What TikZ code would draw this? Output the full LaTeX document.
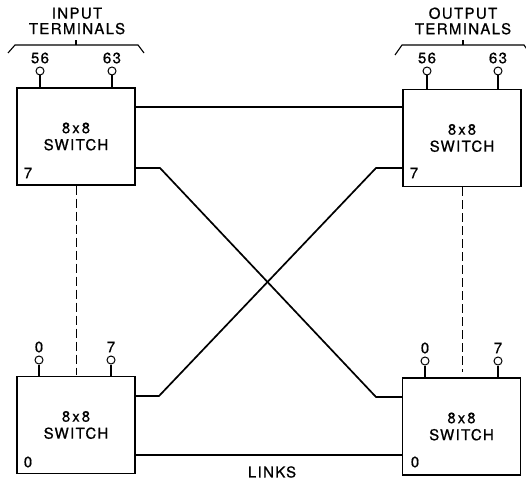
\documentclass[tikz,border=0pt]{standalone}
\usepackage{fontspec}
\setmainfont{TeX Gyre Heros}[LetterSpace=9,FakeBold=0.8]
\newcommand{\eightx}{8\hspace{2pt}x\hspace{2pt}8}
\begin{document}
\begin{tikzpicture}[x=1pt,y=-1pt,
  swbox/.style={draw,line width=1.3pt,minimum width=118pt,minimum height=97pt,inner sep=0pt,
     align=center,font=\fontsize{15}{17}\selectfont},
  lbl/.style={font=\fontsize{15}{17}\selectfont,inner sep=0pt},
  ttl/.style={font=\fontsize{15}{15.5}\selectfont,inner sep=0pt,align=center},
  link/.style={line width=1.7pt},
  term/.style={line width=1.4pt},
  dashline/.style={line width=1pt,dash pattern=on 9pt off 4pt},
  brace/.style={line width=1.1pt}]
\useasboundingbox (0,0) rectangle (526,481);
% boxes
\node[swbox] (tl) at (76,136.5) {\eightx\\SWITCH};
\node[swbox] (tr) at (462,138) {\eightx\\SWITCH};
\node[swbox] (bl) at (76,425) {\eightx\\SWITCH};
\node[swbox] (br) at (461.5,426.5) {\eightx\\SWITCH};
% inner port labels
\node[lbl] (tl7) at (28,173) {7};
\node[lbl] (tr7) at (414,173) {7};
\node[lbl] (bl0) at (28,462) {0};
\node[lbl] (br0) at (415,462) {0};
% titles
\node[ttl] (tin) at (77,21) {INPUT\\TERMINALS};
\node[ttl] (tout) at (463,21) {OUTPUT\\TERMINALS};
\node[lbl] (links) at (272,472) {LINKS};
% braces
\draw[brace] (8,53) -- (15,45) -- (138,45) -- (144,53);
\draw[brace] (76,45) -- (76,40);
\draw[brace] (395,55) -- (402,45) -- (524,45) -- (531,55);
\draw[brace] (463,45) -- (463,40);
% terminals
\foreach \nm/\x/\y/\t/\bx in {a/40/71/56/tl,b/112/71/63/tl,c/427/71/56/tr,d/498/71/63/tr,
   e/39/360/0/bl,f/111/360/7/bl,g/425/361/0/br,h/498/361/7/br}{
  \node[draw,circle,line width=1pt,minimum size=8pt,inner sep=0pt] (c\nm) at (\x,\y) {};
  \node[lbl] (n\nm) at (\x,\y-13) {\t};
  \draw[term] (c\nm.south) -- (c\nm.south |- \bx.north);
}
% link coordinates
\coordinate (p1) at (160,168);
\coordinate (p2) at (376,397);
\coordinate (q1) at (376,168);
\coordinate (q2) at (159,396);
\draw[link] (tl.east |- 0,107) -- (tr.west |- 0,107);
\draw[link] (tl.east |- p1) -- (p1) -- (p2) -- (br.west |- p2);
\draw[link] (tr.west |- q1) -- (q1) -- (q2) -- (bl.east |- q2);
\draw[link] (bl.east |- 0,455) -- (br.west |- 0,455);
% dashed
\coordinate (dl) at (76,375);
\coordinate (dr) at (462,372);
\draw[dashline] (tl.south) -- (dl);
\draw[dashline] (tr.south) -- (dr);
\end{tikzpicture}
\end{document}
